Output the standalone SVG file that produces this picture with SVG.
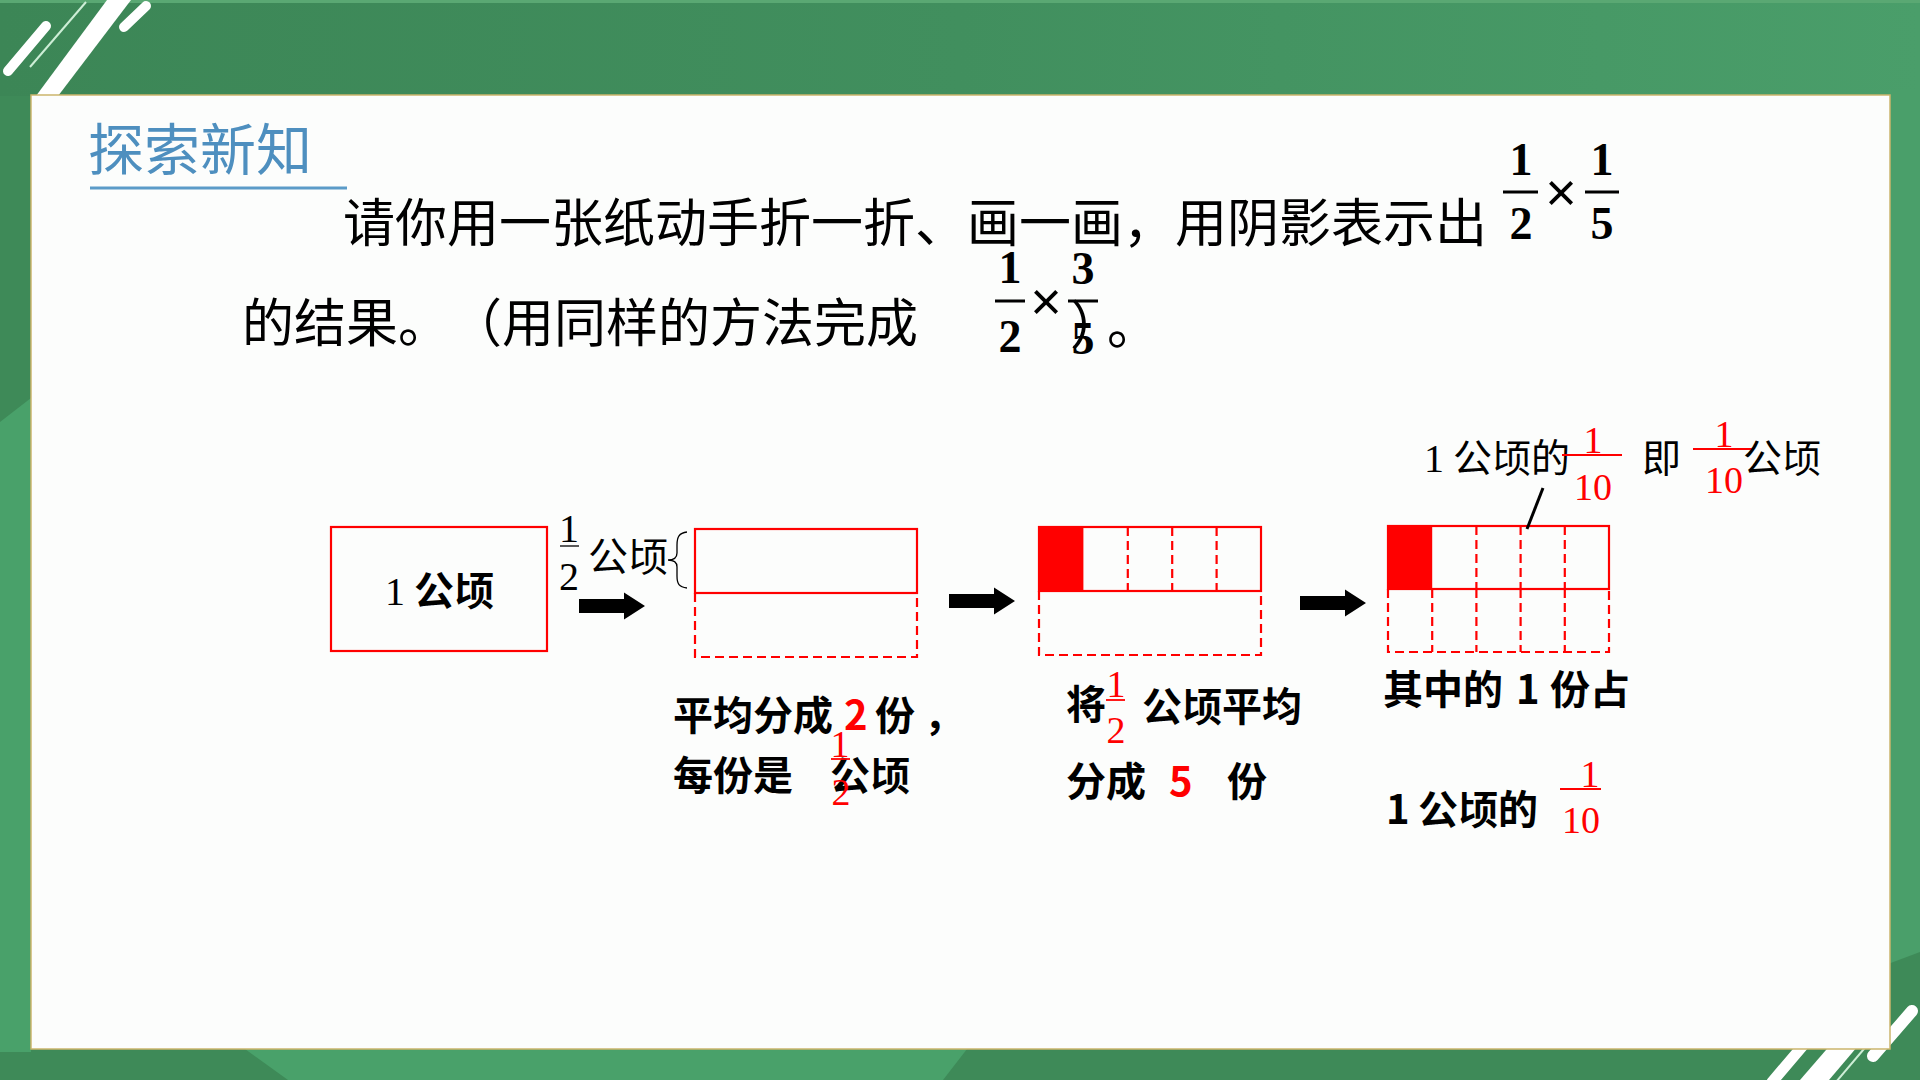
<svg xmlns="http://www.w3.org/2000/svg" width="1920" height="1080" viewBox="0 0 1920 1080">
<defs>
<linearGradient id="topg" x1="0" y1="0" x2="1" y2="0">
<stop offset="0" stop-color="#3c8656"/>
<stop offset="0.5" stop-color="#418f5e"/>
<stop offset="1" stop-color="#4a9e6a"/>
</linearGradient>
<path id="blk" d="M0,-7 H45 V-13.5 L66,0 L45,13.5 V7 H0 Z"/>
</defs>
<style>
.cjk{font-family:"Noto Sans CJK SC","Noto Sans",sans-serif;text-spacing-trim:space-all;}
.b{font-weight:700;}
.ser{font-family:"Liberation Serif","Times New Roman",serif;}
.mul{font-family:"Liberation Sans",Arial,sans-serif;font-size:54px;text-anchor:middle;}
.fb{font-family:"Liberation Serif","Times New Roman",serif;font-weight:700;font-size:46px;text-anchor:middle;}
.fr{font-family:"Liberation Serif","Times New Roman",serif;font-size:38px;text-anchor:middle;fill:#ff0000;}
.bar{stroke:#000;stroke-width:3;}
.rbar{stroke:#ff0000;stroke-width:1.8;}
.solid{fill:none;stroke:#ff0000;stroke-width:2.2;}
.dash{fill:none;stroke:#ff0000;stroke-width:2.2;stroke-dasharray:9 5;}
.red{fill:#ff0000;}
.lbl{font-size:40px;font-weight:700;fill:#000;}
.wst{stroke:#ffffff;stroke-linecap:round;fill:none;}
</style>

<!-- background -->
<rect x="0" y="0" width="1920" height="1080" fill="#3e8a58"/>
<rect x="0" y="0" width="1920" height="96" fill="url(#topg)"/>
<rect x="0" y="0" width="1920" height="3" fill="#5aa873"/>
<polygon points="0,422 31,398 31,1052 0,1052" fill="#49a16a"/>
<polygon points="245,1049 967,1049 943,1080 288,1080" fill="#49a16a"/>
<polygon points="1888,90 1920,90 1920,952 1888,964" fill="#4a9f6a"/>

<!-- decorations top-left -->
<line class="wst" x1="8" y1="71" x2="46" y2="26" stroke-width="10"/>
<line x1="30" y1="67" x2="86" y2="2" stroke="#cdeed6" stroke-width="2"/>
<polygon points="33,100 55,100 131,0 107,0" fill="#ffffff"/>
<line class="wst" x1="124" y1="27" x2="146" y2="6" stroke-width="10"/>

<!-- decorations bottom-right -->
<line class="wst" x1="1772" y1="1082" x2="1812" y2="1035" stroke-width="11"/>
<polygon points="1800,1080 1829,1080 1880,1020 1852,1020" fill="#ffffff"/>
<line x1="1836" y1="1082" x2="1880" y2="1030" stroke="#cdeed6" stroke-width="2"/>
<line class="wst" x1="1873" y1="1056" x2="1912" y2="1011" stroke-width="12"/>

<!-- panel -->
<rect id="panel" x="31" y="95" width="1859" height="954" fill="#fcfdfc" stroke="#cbb56c" stroke-width="1.5"/>

<!-- heading -->
<g id="title">
<text class="cjk" x="88" y="170" font-size="56" fill="#4e8fbf">探索新知</text>
<line x1="90" y1="188" x2="347" y2="188" stroke="#5b9bc8" stroke-width="3"/>
</g>

<!-- question text -->
<g id="question">
<text class="cjk" x="343" y="242" font-size="52" fill="#000">请你用一张纸动手折一折、画一画，用阴影表示出</text>
<text class="fb" x="1521" y="175">1</text>
<line class="bar" x1="1503" y1="192" x2="1538" y2="192"/>
<text class="fb" x="1521" y="239">2</text>
<text class="mul" x="1561" y="211">×</text>
<text class="fb" x="1602" y="175">1</text>
<line class="bar" x1="1585" y1="192" x2="1619" y2="192"/>
<text class="fb" x="1602" y="239">5</text>

<text class="cjk" x="242" y="342" font-size="52" fill="#000">的结果。<tspan x="450">（用同样的方法完成</tspan></text>
<text class="fb" x="1010" y="283">1</text>
<line class="bar" x1="995" y1="301" x2="1025" y2="301"/>
<text class="fb" x="1010" y="352">2</text>
<text class="mul" x="1046" y="320">×</text>
<text class="fb" x="1083" y="284">3</text>
<line class="bar" x1="1068" y1="301" x2="1098" y2="301"/>
<text class="fb" x="1083" y="354">5</text>
<text class="cjk" x="1070" y="344" font-size="52">）</text>
<text class="cjk" x="1107" y="344" font-size="52">。</text>
</g>

<!-- node 1: 1 hectare -->
<g id="node-whole">
<rect class="solid" x="331" y="527" width="216" height="124"/>
<text class="ser" x="385" y="605" font-size="40">1</text>
<text class="cjk lbl" x="414" y="605">公顷</text>
</g>

<!-- node 2: halves -->
<g id="node-half">
<rect class="solid" x="695" y="529" width="222" height="64"/>
<path class="dash" d="M695,593 V657 H917 V593"/>
<text class="ser" x="569" y="542" font-size="40" text-anchor="middle">1</text>
<line x1="560" y1="546" x2="579" y2="546" stroke="#000" stroke-width="1.3"/>
<text class="ser" x="569" y="590" font-size="40" text-anchor="middle">2</text>
<text class="cjk" x="588" y="571" font-size="40">公顷</text>
<path d="M687,532 C679,533 677,537 677,545 L677,553 C677,558 674,560 668,560 C674,560 677,562 677,567 L677,576 C677,584 679,587 687,588" fill="none" stroke="#000" stroke-width="1.3"/>
<text class="cjk lbl" x="673" y="730">平均分成<tspan class="red" x="844">2</tspan><tspan x="875">份</tspan><tspan x="924">，</tspan></text>
<text class="cjk lbl" x="673" y="790">每份是<tspan x="830">公顷</tspan></text>
<text class="fr" x="840" y="757">1</text>
<line class="rbar" x1="831" y1="759" x2="850" y2="759"/>
<text class="fr" x="841" y="805">2</text>
</g>

<!-- node 3: fifths of half -->
<g id="node-fifths">
<rect class="red" x="1039" y="527" width="44.4" height="64"/>
<rect class="solid" x="1039" y="527" width="222" height="64"/>
<path class="dash" d="M1127.8,527 V591 M1172.2,527 V591 M1216.6,527 V591"/>
<path class="dash" d="M1039,591 V655 H1261 V591"/>
<text class="cjk lbl" x="1066" y="719">将</text>
<text class="fr" x="1116" y="697">1</text>
<line class="rbar" x1="1106" y1="700" x2="1125" y2="700"/>
<text class="fr" x="1116" y="743">2</text>
<text class="cjk lbl" x="1142" y="721">公顷平均</text>
<text class="cjk lbl" x="1066" y="796">分成<tspan class="red" x="1169">5</tspan><tspan x="1227">份</tspan></text>
</g>

<!-- node 4: tenths -->
<g id="node-tenths">
<rect class="red" x="1388" y="526" width="44.2" height="63"/>
<rect class="solid" x="1388" y="526" width="221" height="63"/>
<path class="dash" d="M1476.4,526 V589 M1520.6,526 V589 M1564.8,526 V589"/>
<path class="dash" d="M1432.2,589 V652 M1476.4,589 V652 M1520.6,589 V652 M1564.8,589 V652"/>
<path class="dash" d="M1388,589 V652 H1609 V589"/>
<text class="ser" x="1424" y="472" font-size="40">1</text>
<text class="cjk" x="1453" y="472" font-size="39">公顷的</text>
<line class="rbar" x1="1562" y1="455" x2="1622" y2="455"/>
<text class="fr" x="1593" y="453">1</text>
<text class="fr" x="1593" y="500">10</text>
<text class="cjk" x="1642" y="472" font-size="39">即</text>
<line class="rbar" x1="1693" y1="449" x2="1753" y2="449"/>
<text class="fr" x="1724" y="447">1</text>
<text class="fr" x="1724" y="493">10</text>
<text class="cjk" x="1743" y="472" font-size="39">公顷</text>
<text class="cjk lbl" x="1383" y="704">其中的<tspan x="1516">1</tspan><tspan x="1550">份占</tspan></text>
<text class="cjk lbl" x="1386" y="824">1<tspan x="1418">公顷的</tspan></text>
<text class="fr" x="1590" y="787">1</text>
<line class="rbar" x1="1560" y1="789" x2="1601" y2="789"/>
<text class="fr" x="1581" y="833">10</text>
</g>

<!-- connectors -->
<g id="connectors">
<use href="#blk" transform="translate(579,606)"/>
<use href="#blk" transform="translate(949,601)"/>
<use href="#blk" transform="translate(1300,603)"/>
<line x1="1527" y1="529" x2="1543" y2="488" stroke="#000" stroke-width="3"/>
</g>
</svg>
